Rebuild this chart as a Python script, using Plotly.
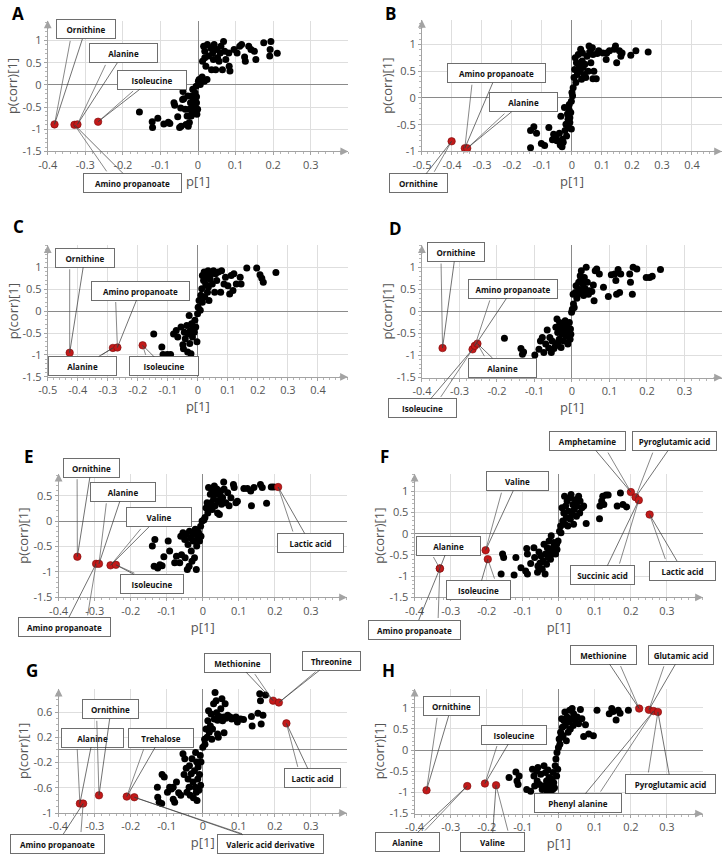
import plotly.graph_objects as go

# ------------------------------------------------------------------ data
A_x = [-0.156,-0.122,-0.121,-0.107,-0.091,-0.079,-0.075,-0.064,-0.062,-0.054,
       -0.049,-0.046,-0.045,-0.041,-0.040,-0.038,-0.034,-0.032,-0.029,-0.027,
       -0.026,-0.023,-0.023,-0.020,-0.018,-0.017,-0.016,-0.014,-0.013,-0.011,
       -0.010,-0.008,-0.005,-0.004,-0.004,-0.003,-0.001,0.001,0.003,0.006,
       0.011,0.012,0.017,0.018,0.021,0.024,0.018,0.015,0.025,0.028,
       0.034,0.036,0.039,0.041,0.043,0.047,0.050,0.052,0.056,0.059,
       0.061,0.065,0.068,0.071,0.074,0.082,0.085,0.083,0.096,0.104,
       0.111,0.116,0.124,0.126,0.135,0.141,0.150,0.154,0.175,0.191,
       0.194,0.192,0.211]
A_y = [-0.61,-0.83,-0.96,-0.75,-0.88,-0.84,-0.87,-0.40,-0.46,-0.72,
       -0.96,-0.52,-0.93,-0.33,-0.15,-0.31,-0.55,-0.89,-0.70,-0.25,
       -0.93,-0.85,-0.55,-0.40,-0.70,-0.25,-0.59,-0.10,-0.33,-0.48,
       -0.63,-0.18,-0.03,-0.40,-0.27,-0.66,-0.55,0.08,0.12,0.01,
       0.18,0.53,0.08,0.61,0.42,0.12,0.76,0.87,0.91,0.65,
       0.83,0.34,0.72,0.57,0.91,0.34,0.80,0.61,0.53,0.72,
       0.87,0.34,0.98,0.76,0.57,0.72,0.31,0.42,0.80,0.72,
       0.87,0.91,0.63,0.53,0.87,0.80,0.76,0.57,0.95,0.65,
       0.98,0.80,0.71]
A_red_names = ["Ornithine", "Amino propanoate", "Alanine", "Isoleucine"]
A_red_x = [-0.382, -0.329, -0.321, -0.266]
A_red_y = [-0.89, -0.90, -0.89, -0.83]

B_x = [-0.138,-0.138,-0.127,-0.118,-0.102,-0.091,-0.077,-0.065,-0.061,-0.053,
       -0.050,-0.042,-0.039,-0.037,-0.033,-0.032,-0.029,-0.025,-0.023,-0.020,
       -0.018,-0.015,-0.013,-0.011,-0.010,-0.009,-0.007,-0.007,-0.004,-0.002,
       -0.002,0.000,0.002,0.004,0.007,0.009,0.011,0.013,0.015,0.018,
       0.021,0.024,0.026,0.029,0.032,0.034,0.035,0.037,0.041,0.043,
       0.046,0.050,0.054,0.057,0.059,0.063,0.068,0.070,0.073,0.070,
       0.081,0.084,0.089,0.103,0.114,0.116,0.125,0.141,0.145,0.149,
       0.158,0.163,0.167,0.196,0.213,0.254]
B_y = [-0.93,-0.61,-0.54,-0.66,-0.85,-0.89,-0.55,-0.78,-0.68,-0.71,
       -0.80,-0.66,-0.88,-0.34,-0.91,-0.77,-0.83,-0.18,-0.61,-0.49,
       -0.71,-0.30,-0.40,-0.55,-0.21,-0.12,-0.37,-0.46,-0.27,-0.06,
       -0.58,0.10,0.04,0.19,0.38,0.53,0.75,0.29,0.66,0.44,
       0.81,0.60,0.50,0.91,0.35,0.69,0.84,0.57,0.44,0.63,
       0.38,0.78,0.50,0.97,0.86,0.66,0.94,0.81,0.50,0.36,
       0.36,0.83,0.88,0.84,0.72,0.84,0.88,0.91,0.97,0.66,
       0.88,0.78,0.84,0.80,0.88,0.86]
B_red_names = ["Ornithine", "Amino propanoate", "Alanine"]
B_red_x = [-0.401, -0.357, -0.349]
B_red_y = [-0.81, -0.94, -0.94]

C_x = [-0.147,-0.120,-0.116,-0.102,-0.091,-0.081,-0.072,-0.067,-0.056,-0.050,
       -0.048,-0.045,-0.042,-0.037,-0.034,-0.032,-0.029,-0.027,-0.025,-0.023,
       -0.021,-0.018,-0.015,-0.012,-0.010,-0.007,-0.003,-0.001,0.001,0.004,
       0.008,0.010,0.013,0.015,0.015,0.019,0.021,0.023,0.026,0.029,
       0.032,0.034,0.035,0.037,0.041,0.045,0.048,0.052,0.056,0.059,
       0.063,0.068,0.076,0.079,0.087,0.092,0.100,0.106,0.111,0.117,
       0.120,0.128,0.141,0.144,0.163,0.196,0.207,0.213,0.218,0.260]
C_y = [-0.52,-0.82,-0.99,-0.99,-0.99,-0.52,-0.44,-0.59,-0.36,-0.77,
       -0.86,-0.48,-0.63,-0.33,-0.93,-0.52,-0.10,-0.74,-0.44,-0.97,
       -0.29,-0.59,-0.40,-0.48,-0.21,-0.36,-0.70,-0.06,0.09,0.24,
       0.02,0.36,0.51,0.81,0.20,0.70,0.89,0.32,0.62,0.77,
       0.43,0.92,0.55,0.24,0.73,0.85,0.62,0.92,0.43,0.85,
       0.70,0.89,0.43,0.92,0.62,0.77,0.58,0.39,0.81,0.47,
       0.85,0.62,0.77,0.62,0.98,0.98,0.83,0.75,0.66,0.88]
C_red_names = ["Ornithine", "Alanine", "Amino propanoate", "Isoleucine"]
C_red_x = [-0.427, -0.283, -0.268, -0.184]
C_red_y = [-0.95, -0.84, -0.83, -0.78]

D_x = [-0.180,-0.136,-0.132,-0.129,-0.099,-0.088,-0.084,-0.079,-0.075,-0.070,
       -0.066,-0.062,-0.059,-0.055,-0.053,-0.048,-0.044,-0.043,-0.040,-0.038,
       -0.037,-0.034,-0.033,-0.031,-0.029,-0.026,-0.024,-0.022,-0.019,-0.018,
       -0.016,-0.013,-0.011,-0.010,-0.007,-0.005,-0.004,-0.003,-0.001,0.001,
       0.003,0.004,0.006,0.009,0.011,0.013,0.016,0.018,0.020,0.022,
       0.024,0.025,0.027,0.029,0.031,0.033,0.035,0.038,0.040,0.041,
       0.044,0.047,0.053,0.057,0.059,0.062,0.066,0.073,0.084,0.097,
       0.105,0.114,0.117,0.119,0.123,0.127,0.130,0.154,0.156,0.161,
       0.163,0.173,0.198,0.207,0.214,0.236]
D_y = [-0.61,-0.84,-0.97,-0.92,-0.99,-0.86,-0.67,-0.59,-0.93,-0.74,
       -0.42,-0.83,-0.59,-0.93,-0.67,-0.84,-0.78,-0.36,-0.17,-0.48,
       -0.70,-0.63,-0.25,-0.40,-0.82,-0.52,-0.33,-0.67,-0.44,-0.21,
       -0.55,-0.33,-0.74,-0.48,-0.25,-0.63,-0.40,-0.52,-0.02,0.05,
       0.39,0.17,0.09,0.43,0.58,0.30,0.39,0.66,0.50,0.81,
       0.73,0.92,0.47,0.62,0.36,0.77,0.52,1.00,0.43,0.66,
       0.39,0.47,0.45,0.60,0.24,0.92,0.96,0.85,0.55,0.34,
       0.83,0.85,0.70,0.39,0.95,0.43,0.85,0.85,0.66,0.39,
       1.00,0.96,0.77,0.77,0.80,0.95]
D_red_names = ["Ornithine", "Isoleucine", "Amino propanoate", "Alanine"]
D_red_x = [-0.345, -0.265, -0.259, -0.252]
D_red_y = [-0.83, -0.86, -0.78, -0.73]

E_x = [-0.140,-0.133,-0.135,-0.125,-0.119,-0.113,-0.108,-0.096,-0.092,-0.078,
       -0.073,-0.064,-0.061,-0.059,-0.055,-0.050,-0.049,-0.046,-0.043,-0.041,
       -0.038,-0.037,-0.034,-0.032,-0.030,-0.027,-0.026,-0.023,-0.021,-0.018,
       -0.017,-0.016,-0.014,-0.012,-0.009,-0.006,-0.005,-0.002,0.003,0.006,
       0.009,0.012,0.014,0.016,0.019,0.021,0.023,0.026,0.027,0.030,
       0.032,0.034,0.037,0.039,0.041,0.043,0.046,0.049,0.050,0.052,
       0.055,0.058,0.059,0.064,0.069,0.073,0.078,0.085,0.087,0.092,
       0.096,0.114,0.124,0.133,0.135,0.142,0.160,0.165,0.177,0.190,
       0.197]
E_y = [-0.49,-0.36,-0.89,-0.92,-0.86,-0.88,-0.70,-0.39,-0.59,-0.82,
       -0.69,-0.82,-0.30,-0.66,-0.23,-0.36,-0.72,-0.26,-0.95,-0.46,
       -0.89,-0.20,-0.33,-0.59,-0.79,-0.26,-0.39,-0.72,-0.16,-0.95,
       -0.49,-0.28,-0.36,-0.22,-0.39,-0.10,-0.30,0.00,0.02,0.07,
       0.26,0.36,0.16,0.66,0.26,0.53,0.36,0.23,0.59,0.43,
       0.69,0.30,0.53,0.63,0.16,0.39,0.13,0.49,0.59,0.33,
       0.46,0.77,0.63,0.36,0.56,0.30,0.46,0.72,0.66,0.36,
       0.39,0.64,0.64,0.59,0.30,0.66,0.72,0.66,0.35,0.67,
       0.67]
E_red_names = ["Ornithine", "Amino propanoate", "Alanine", "Valine", "Isoleucine", "Lactic acid"]
E_red_x = [-0.348, -0.296, -0.288, -0.256, -0.241, 0.209]
E_red_y = [-0.70, -0.84, -0.84, -0.87, -0.86, 0.67]

F_x = [-0.160,-0.156,-0.153,-0.124,-0.119,-0.105,-0.092,-0.089,-0.087,-0.087,
       -0.078,-0.069,-0.067,-0.059,-0.058,-0.055,-0.052,-0.050,-0.046,-0.043,
       -0.041,-0.038,-0.037,-0.034,-0.032,-0.029,-0.027,-0.025,-0.023,-0.021,
       -0.018,-0.016,-0.014,-0.012,-0.009,-0.006,-0.005,-0.002,0.002,0.005,
       0.006,0.009,0.011,0.014,0.016,0.017,0.019,0.021,0.023,0.025,
       0.027,0.030,0.032,0.034,0.037,0.039,0.041,0.043,0.046,0.049,
       0.050,0.055,0.058,0.059,0.064,0.069,0.076,0.113,0.114,0.119,
       0.122,0.125,0.131,0.137,0.162,0.171,0.178,0.188]
F_y = [-0.95,-0.48,-0.56,-0.97,-0.56,-0.80,-0.88,-0.35,-0.48,-0.95,
       -0.70,-0.33,-0.56,-0.91,-0.76,-0.43,-0.69,-0.52,-0.84,-0.64,
       -0.25,-0.95,-0.48,-0.72,-0.33,-0.56,-0.17,-0.41,-0.60,-0.05,
       -0.48,-0.33,-0.21,-0.41,-0.48,-0.25,-0.37,-0.17,0.06,0.18,
       0.02,0.61,0.30,0.49,0.88,0.22,0.65,0.38,0.77,0.18,
       0.53,0.84,0.34,0.92,0.45,0.69,0.22,0.57,0.80,0.41,
       0.65,0.88,0.49,0.77,0.61,0.65,0.24,0.35,0.65,0.77,
       0.88,0.69,0.91,0.91,0.65,0.96,0.69,0.63]
F_red_names = ["Alanine", "Amino propanoate", "Valine", "Isoleucine",
               "Amphetamine", "Pyroglutamic acid", "Succinic acid", "Lactic acid"]
F_red_x = [-0.330, -0.330, -0.203, -0.197, 0.200, 0.213, 0.222, 0.252]
F_red_y = [-0.82, -0.82, -0.39, -0.60, 0.98, 0.86, 0.79, 0.45]

G_x = [-0.126,-0.125,-0.121,-0.114,-0.113,-0.107,-0.098,-0.092,-0.087,-0.082,
       -0.082,-0.078,-0.073,-0.067,-0.061,-0.055,-0.052,-0.050,-0.046,-0.044,
       -0.041,-0.038,-0.037,-0.035,-0.032,-0.030,-0.027,-0.026,-0.023,-0.021,
       -0.020,-0.018,-0.017,-0.016,-0.014,-0.013,-0.011,-0.009,-0.007,-0.006,
       -0.005,0.000,0.005,0.006,0.009,0.012,0.014,0.016,0.018,0.021,
       0.023,0.025,0.027,0.030,0.032,0.034,0.037,0.038,0.041,0.041,
       0.043,0.046,0.050,0.053,0.055,0.058,0.059,0.062,0.064,0.069,
       0.076,0.080,0.085,0.092,0.096,0.105,0.113,0.135,0.137,0.153,
       0.158,0.160,0.162,0.167,0.174]
G_y = [-0.59,-0.75,-0.83,-0.85,-0.39,-0.43,-0.67,-0.59,-0.62,-0.59,
       -0.78,-0.83,-0.51,-0.68,-0.72,-0.06,-0.39,-0.14,-0.29,-0.67,
       -0.46,-0.59,-0.25,-0.72,-0.38,-0.14,-0.51,-0.76,-0.33,-0.59,
       -0.04,-0.67,-0.19,-0.80,-0.46,-0.27,-0.64,-0.39,-0.09,-0.56,
       -0.19,0.04,0.17,0.09,0.33,0.20,0.46,0.62,0.28,0.38,
       0.57,0.17,0.33,0.73,0.49,0.91,0.78,0.59,0.25,0.47,
       0.20,0.53,0.65,0.81,0.46,0.52,0.27,0.73,0.50,0.55,
       0.52,0.49,0.50,0.52,0.44,0.49,0.48,0.53,0.38,0.58,
       0.89,0.78,0.41,0.55,0.87]
G_red_names = ["Alanine", "Amino propanoate", "Ornithine", "Trehalose",
               "Valeric acid derivative", "Methionine", "Threonine", "Lactic acid"]
G_red_x = [-0.341, -0.332, -0.288, -0.211, -0.190, 0.195, 0.211, 0.232]
G_red_y = [-0.85, -0.85, -0.72, -0.74, -0.75, 0.78, 0.75, 0.42]

H_x = [-0.138,-0.119,-0.116,-0.113,-0.110,-0.089,-0.078,-0.073,-0.069,-0.067,
       -0.062,-0.060,-0.058,-0.053,-0.050,-0.046,-0.041,-0.039,-0.037,-0.034,
       -0.032,-0.030,-0.028,-0.027,-0.025,-0.023,-0.021,-0.019,-0.017,-0.016,
       -0.014,-0.012,-0.010,-0.008,-0.006,-0.005,-0.003,-0.001,0.001,0.003,
       0.005,0.006,0.008,0.010,0.012,0.014,0.017,0.018,0.021,0.023,
       0.026,0.028,0.030,0.032,0.035,0.037,0.040,0.041,0.046,0.051,
       0.055,0.060,0.064,0.069,0.074,0.083,0.096,0.106,0.140,0.147,
       0.151,0.159,0.165,0.170,0.193]
H_y = [-0.65,-0.52,-0.73,-0.81,-0.61,-0.93,-0.97,-0.45,-0.61,-0.85,
       -0.49,-0.73,-0.41,-0.81,-0.57,-0.93,-0.37,-0.85,-0.53,-0.73,
       -0.97,-0.47,-0.89,-0.65,-0.81,-0.97,-0.85,-0.69,-0.93,-0.53,
       -0.77,-0.89,-0.37,-0.21,-0.61,-0.06,-0.45,0.06,0.26,0.14,
       0.42,0.30,0.74,0.54,0.34,0.70,0.90,0.58,0.22,0.78,
       0.42,0.66,0.94,0.50,0.74,0.98,0.58,0.86,0.70,0.78,
       0.62,0.96,0.74,0.32,0.60,0.38,0.34,0.94,0.86,0.98,
       0.91,0.71,0.94,0.87,0.94]
H_red_names = ["Ornithine", "Alanine", "Isoleucine", "Valine",
               "Methionine", "Glutamic acid", "Phenyl alanine", "Pyroglutamic acid"]
H_red_x = [-0.367, -0.254, -0.205, -0.174, 0.223, 0.250, 0.263, 0.275]
H_red_y = [-0.95, -0.85, -0.79, -0.83, 0.98, 0.95, 0.92, 0.90]

# tick values / labels
X_TICKS_A = [-0.4, -0.3, -0.2, -0.1, 0, 0.1, 0.2, 0.3]
X_LABELS_A = ["-0.4", "-0.3", "-0.2", "-0.1", "0", "0.1", "0.2", "0.3"]
X_TICKS_B = [-0.5, -0.4, -0.3, -0.2, -0.1, 0, 0.1, 0.2, 0.3, 0.4]
X_LABELS_B = ["-0.5", "-0.4", "-0.3", "-0.2", "-0.1", "0", "0.1", "0.2", "0.3", "0.4"]
Y_TICKS_A = [-1.5, -1, -0.5, 0, 0.5, 1]
Y_LABELS_A = ["-1.5", "-1", "-0.5", "0", "0.5", "1"]
Y_TICKS_B = [-1, -0.5, 0, 0.5, 1]
Y_LABELS_B = ["-1", "-0.5", "0", "0.5", "1"]
Y_TICKS_E = [-1.5, -1, -0.5, 0, 0.5]
Y_LABELS_E = ["-1.5", "-1", "-0.5", "0", "0.5"]
Y_TICKS_G = [-1, -0.6, -0.2, 0.2, 0.6]
Y_LABELS_G = ["-1", "-0.6", "-0.2", "0.2", "0.6"]

# ------------------------------------------------------------------ layout settings
W, H = 722, 859
FONT = "Open Sans, DejaVu Sans, sans-serif"

PANELS = ["A", "B", "C", "D", "E", "F", "G", "H"]
DATA = {
    "A": (A_x, A_y, A_red_names, A_red_x, A_red_y),
    "B": (B_x, B_y, B_red_names, B_red_x, B_red_y),
    "C": (C_x, C_y, C_red_names, C_red_x, C_red_y),
    "D": (D_x, D_y, D_red_names, D_red_x, D_red_y),
    "E": (E_x, E_y, E_red_names, E_red_x, E_red_y),
    "F": (F_x, F_y, F_red_names, F_red_x, F_red_y),
    "G": (G_x, G_y, G_red_names, G_red_x, G_red_y),
    "H": (H_x, H_y, H_red_names, H_red_x, H_red_y),
}
# left, right, top, bottom (px), x range, y range
BOX = {
    "A": (38.3, 343.0, 20.7, 152.7, [-0.4, 0.4], [-1.5, 1.45]),
    "B": (417.7, 722.0, 20.0, 152.7, [-0.5, 0.5], [-1.0, 1.46]),
    "C": (38.3, 342.7, 247.3, 380.0, [-0.5, 0.5], [-1.5, 1.5]),
    "D": (417.7, 722.0, 247.3, 380.7, [-0.4, 0.4], [-1.5, 1.5]),
    "E": (49.3, 341.7, 477.7, 602.3, [-0.4, 0.4], [-1.5, 0.93]),
    "F": (410.3, 702.7, 477.7, 602.3, [-0.4, 0.4], [-1.5, 1.41]),
    "G": (49.3, 341.7, 694.3, 819.7, [-0.4, 0.4], [-1.0, 0.97]),
    "H": (410.3, 702.7, 694.3, 820.3, [-0.4, 0.4], [-1.5, 1.45]),
}
TICKS = {
    "A": (X_TICKS_A, X_LABELS_A, Y_TICKS_A, Y_LABELS_A),
    "B": (X_TICKS_B, X_LABELS_B, Y_TICKS_B, Y_LABELS_B),
    "C": (X_TICKS_B, X_LABELS_B, Y_TICKS_A, Y_LABELS_A),
    "D": (X_TICKS_A, X_LABELS_A, Y_TICKS_A, Y_LABELS_A),
    "E": (X_TICKS_A, X_LABELS_A, Y_TICKS_E, Y_LABELS_E),
    "F": (X_TICKS_A, X_LABELS_A, Y_TICKS_A, Y_LABELS_A),
    "G": (X_TICKS_A, X_LABELS_A, Y_TICKS_G, Y_LABELS_G),
    "H": (X_TICKS_A, X_LABELS_A, Y_TICKS_A, Y_LABELS_A),
}
LETTER_POS = {"A": (0, 0), "B": (378, 0), "C": (1, 215), "D": (382, 217),
              "E": (12, 447), "F": (373, 447), "G": (14, 662), "H": (375, 662)}
# callout box: pixel offset of box centre from point, box width
CALLOUT = {
    "A": {"Ornithine": (31, -95, 60), "Alanine": (46, -71, 69),
          "Isoleucine": (54, -42, 70), "Amino propanoate": (58, 58, 99)},
    "B": {"Ornithine": (-33, 42, 59), "Amino propanoate": (32, -75, 99),
          "Alanine": (56, -46, 69)},
    "C": {"Ornithine": (15, -95, 60), "Alanine": (-30, 18, 69),
          "Amino propanoate": (23, -57, 99), "Isoleucine": (21, 21, 70)},
    "D": {"Ornithine": (13, -96, 58), "Isoleucine": (-50, 59, 69),
          "Amino propanoate": (38, -57, 90), "Alanine": (25, 24, 69)},
    "E": {"Ornithine": (14, -89, 57), "Amino propanoate": (-32, 63, 93),
          "Alanine": (24, -72, 66), "Valine": (48, -48, 66),
          "Isoleucine": (36, 19, 64), "Lactic acid": (32, 56, 67)},
    "F": {"Alanine": (9, -23, 65), "Amino propanoate": (-25, 61, 93),
          "Valine": (32, -69, 63), "Isoleucine": (-9, 31, 65),
          "Amphetamine": (-43, -51, 77), "Pyroglutamic acid": (39, -56, 85),
          "Succinic acid": (-36, 75, 65), "Lactic acid": (33, 56, 67)},
    "G": {"Alanine": (13, -66, 63), "Amino propanoate": (-26, 40, 95),
          "Ornithine": (12, -86, 57), "Trehalose": (34, -59, 66),
          "Valeric acid derivative": (136, 47, 107), "Methionine": (-36, -38, 67),
          "Threonine": (53, -42, 59), "Lactic acid": (26, 55, 57)},
    "H": {"Ornithine": (25, -84, 57), "Alanine": (-60, 56, 65),
          "Isoleucine": (29, -49, 66), "Valine": (-4, 57, 65),
          "Methionine": (-36, -54, 67), "Glutamic acid": (32, -55, 66),
          "Phenyl alanine": (-76, 92, 88), "Pyroglutamic acid": (13, 72, 91)},
}
BOX_H = 20

fig = go.Figure()
layout = dict(
    width=W, height=H, margin=dict(l=0, r=0, t=0, b=0),
    paper_bgcolor="white", plot_bgcolor="white", showlegend=False,
    font=dict(family=FONT, color="#555"),
)
annotations = []

for i, p in enumerate(PANELS, start=1):
    sfx = "" if i == 1 else str(i)
    xr, yr = "x" + sfx, "y" + sfx
    x0, x1, top, bot, xrange_, yrange_ = BOX[p]
    xt, xl, yt, yl = TICKS[p]
    bx, by, rnames, rx, ry = DATA[p]

    axis_common = dict(
        showgrid=True, gridcolor="#dedede", gridwidth=1,
        zeroline=True, zerolinecolor="#8a8a8a", zerolinewidth=1,
        showline=True, linecolor="#a3a3a3", linewidth=1,
        ticks="outside", ticklen=3, tickcolor="#a3a3a3",
        tickfont=dict(size=11, color="#555", family=FONT),
        fixedrange=True, tickmode="array",
    )
    layout["xaxis" + sfx] = dict(
        axis_common, domain=[x0 / W, x1 / W], range=xrange_, anchor=yr,
        tickvals=xt, ticktext=xl,
        minor=dict(tickmode="linear", tick0=0, dtick=0.02, ticks="outside",
                   ticklen=2, tickcolor="#b5b5b5", showgrid=False),
        title=dict(text="p[1]", font=dict(size=13, color="#555", family=FONT), standoff=2),
    )
    layout["yaxis" + sfx] = dict(
        axis_common, domain=[1 - bot / H, 1 - top / H], range=yrange_, anchor=xr,
        tickvals=yt, ticktext=yl,
        minor=dict(tickmode="linear", tick0=0, dtick=0.1, ticks="outside",
                   ticklen=2, tickcolor="#b5b5b5", showgrid=False),
        title=dict(text="p(corr)[1]", font=dict(size=13, color="#555", family=FONT), standoff=1),
    )

    fig.add_trace(go.Scatter(
        x=bx, y=by, xaxis=xr, yaxis=yr, mode="markers",
        marker=dict(size=7, color="#000000", line=dict(width=0)),
        hoverinfo="skip", cliponaxis=False,
    ))
    fig.add_trace(go.Scatter(
        x=rx, y=ry, xaxis=xr, yaxis=yr, mode="markers",
        marker=dict(size=7.5, color="#c21a1a", line=dict(width=0.6, color="#7a0c0c")),
        hoverinfo="skip", cliponaxis=False,
    ))

    # axis arrows
    annotations.append(dict(x=1, y=0, xref=xr + " domain", yref=yr + " domain",
                            ax=-10, ay=0, axref="pixel", ayref="pixel", text="",
                            showarrow=True, arrowhead=2, arrowsize=1.3, arrowwidth=1.2,
                            arrowcolor="#a3a3a3", standoff=0))
    annotations.append(dict(x=0, y=1, xref=xr + " domain", yref=yr + " domain",
                            ax=0, ay=10, axref="pixel", ayref="pixel", text="",
                            showarrow=True, arrowhead=2, arrowsize=1.3, arrowwidth=1.2,
                            arrowcolor="#a3a3a3", standoff=0))

    # callouts
    for name, px_, py_ in zip(rnames, rx, ry):
        dx, dy, w = CALLOUT[p][name]
        sx = -0.25 * w if dx > 0 else 0.25 * w
        sy = BOX_H / 2 if dy < 0 else -BOX_H / 2
        annotations.append(dict(
            x=px_, y=py_, xref=xr, yref=yr, ax=dx + sx, ay=dy + sy,
            axref="pixel", ayref="pixel", text="", showarrow=True,
            arrowhead=0, arrowwidth=0.7, arrowcolor="#555", standoff=0))
        annotations.append(dict(
            x=px_, y=py_, xref=xr, yref=yr, ax=dx, ay=dy,
            axref="pixel", ayref="pixel", text="<b>" + name + "</b>",
            showarrow=True, arrowhead=0, arrowwidth=0.7, arrowcolor="#333",
            standoff=0, bgcolor="white", bordercolor="#6e6e6e", borderwidth=1,
            borderpad=1, width=w - 4, height=BOX_H - 4,
            font=dict(size=8, color="#111", family=FONT), align="center", valign="middle"))

    # panel letter
    lx, ly = LETTER_POS[p]
    annotations.append(dict(x=lx / W, y=1 - ly / H, xref="paper", yref="paper",
                            xanchor="left", yanchor="top", text="<b>" + p + "</b>",
                            showarrow=False,
                            font=dict(size=17, color="#000", family=FONT)))

layout["annotations"] = annotations
fig.update_layout(**layout)
fig.write_html("out.html", config={"displayModeBar": False},
               post_script="document.body.style.margin='0px';document.body.style.overflow='hidden';")
